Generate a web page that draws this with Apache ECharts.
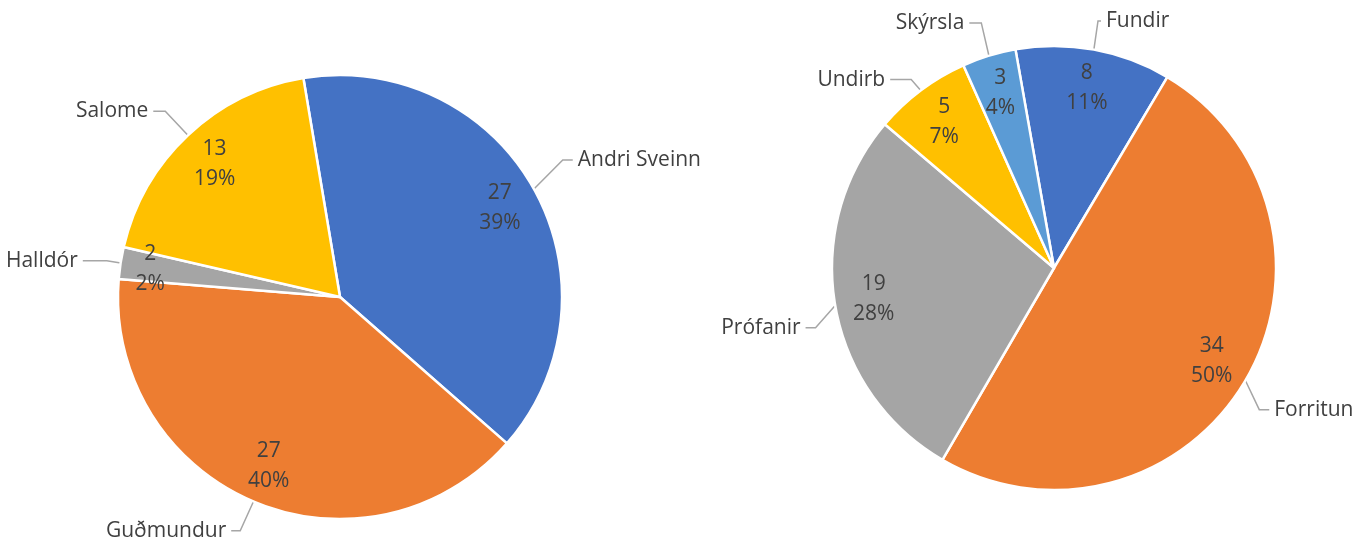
<!DOCTYPE html>
<html>
<head>
<meta charset="utf-8">
<script src="https://cdn.jsdelivr.net/npm/echarts@6/dist/echarts.min.js"></script>
<style>
    html, body { margin: 0; padding: 0; background: #fff; }
    #chart { width: 1371px; height: 538px; }
</style>
</head>
<body>
<div id="chart"></div>
<script>
// vinstri kaka: tímar á mann
const teamNames = ['Andri Sveinn', 'Guðmundur', 'Halldór', 'Salome'];
const teamHours = [26.9, 27.4, 1.6, 12.9];

// hægri kaka: tímar eftir verkþætti
const taskNames = ['Fundir', 'Forritun', 'Prófanir', 'Undirb', 'Skýrsla'];
const taskHours = [7.8, 34.4, 19.2, 4.9, 2.7];

const teamColors = ['#4472c4', '#ed7d31', '#a5a5a5', '#ffc000'];
const taskColors = ['#4472c4', '#ed7d31', '#a5a5a5', '#ffc000', '#5b9bd5'];

// [length, length2] fyrir hverja leiðarlínu
const teamLines = [[33, 10], [34, 9], [14, 24], [33, 12]];
const taskLines = [[23, 3], [30, 10], [25, 10], [16, 21], [26, 12]];
// hliðrun á hné leiðarlínu og texta [dx, dy]
const teamShift = [[0, -13], [0, -2], [0, 0], [0, 0]];
const taskShift = [[0, -6], [-12, 14], [5, 18], [0, 2], [0, -8]];
// hliðrun á gildum inni í sneiðum (x)
const teamValueShift = [0, 0, -9, 0];
const taskValueShift = [0, 0, 0, 0, 0];

const textColor = '#404040';
const fontFamily = "'Open Sans', sans-serif";

function makePie(names, values, colors, lines, shifts, valueShift, center, startAngle) {
    let main = {
        type: 'pie',
        center: center,
        radius: 222,
        startAngle: startAngle,
        clockwise: true,
        avoidLabelOverlap: false,
        emphasis: { scale: false },
        itemStyle: {
            borderColor: '#fff',
            borderWidth: 2.5
        },
        label: {
            show: true,
            position: 'outside',
            formatter: '{b}',
            color: textColor,
            fontSize: 21,
            fontFamily: fontFamily,
            padding: [0, 0, 12, 0]
        },
        labelLine: {
            show: true,
            smooth: false,
            lineStyle: { color: '#a6a6a6', width: 1.5 }
        },
        labelLayout: function (params) {
            let pts = params.labelLinePoints;
            let s = shifts[params.dataIndex];
            if (!pts || pts.length < 3 || !s) return {};
            let p1 = [pts[1][0] + s[0], pts[1][1] + s[1]];
            let p2 = [pts[2][0] + s[0], pts[2][1] + s[1]];
            let dir = pts[2][0] < pts[1][0] ? -1 : 1;
            return {
                x: p2[0] + dir * 5,
                y: p2[1],
                labelLinePoints: [pts[0], p1, p2]
            };
        },
        data: names.map((n, i) => ({
            name: n,
            value: values[i],
            itemStyle: { color: colors[i] },
            labelLine: { length: lines[i][0], length2: lines[i][1] }
        }))
    };
    // gegnsær hringur sem ber gildin og prósentur inni í sneiðunum
    let inner = {
        type: 'pie',
        center: center,
        radius: [138, 222],
        startAngle: startAngle,
        clockwise: true,
        silent: true,
        percentPrecision: 0,
        itemStyle: { color: 'rgba(0,0,0,0)' },
        label: {
            show: true,
            position: 'inside',
            color: textColor,
            fontSize: 21,
            lineHeight: 30,
            fontFamily: fontFamily,
            formatter: function (p) {
                return Math.round(p.value) + '\n' + p.percent + '%';
            }
        },
        labelLayout: function (params) {
            let dx = valueShift[params.dataIndex];
            if (!dx) return {};
            let r = params.labelRect;
            return { x: r.x + r.width / 2 + dx };
        },
        labelLine: { show: false },
        data: names.map((n, i) => ({ name: n, value: values[i] }))
    };
    return [main, inner];
}

let mycharts = echarts.init(document.getElementById('chart'));
mycharts.setOption({
    animation: false,
    backgroundColor: '#fff',
    series: [
        ...makePie(teamNames, teamHours, teamColors, teamLines, teamShift, teamValueShift, [340, 297], 99.5),
        ...makePie(taskNames, taskHours, taskColors, taskLines, taskShift, taskValueShift, [1054, 268], 100)
    ]
});
</script>
</body>
</html>
